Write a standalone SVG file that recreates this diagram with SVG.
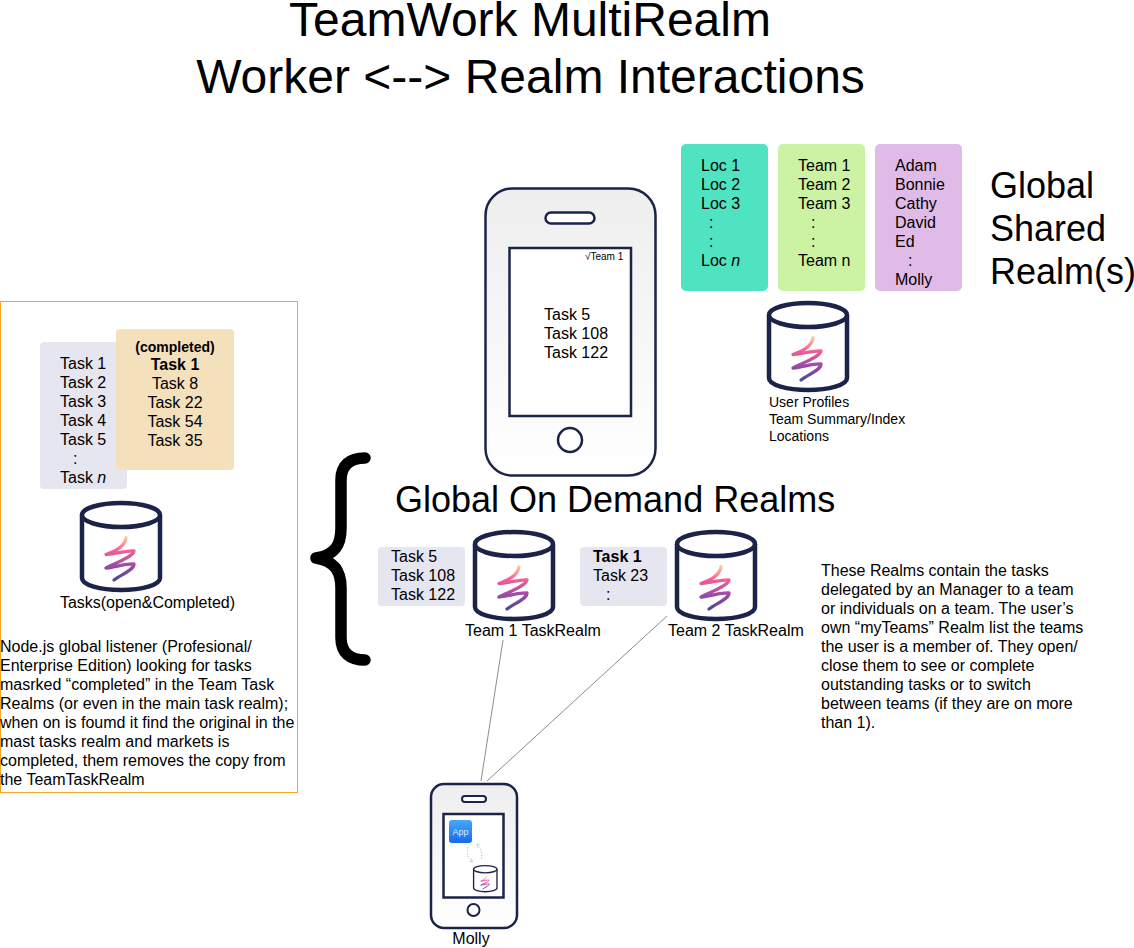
<svg xmlns="http://www.w3.org/2000/svg" xmlns:xlink="http://www.w3.org/1999/xlink" width="1134" height="948" viewBox="0 0 1134 948">
<style>
text{font-family:"Liberation Sans",Arial,sans-serif;fill:#000}
.t16{font-size:16px}.t14{font-size:14px}.t36{font-size:36px}.t48{font-size:48px}
.m{text-anchor:middle}.b{font-weight:bold}.i{font-style:italic}
.wire{stroke:#8c8c8c;stroke-width:1;fill:none}
.dash{fill:none;stroke:#bcc6cc;stroke-width:1;stroke-dasharray:1.500 1.500}
</style>
<defs>
<linearGradient id="sq" x1="0" y1="0" x2="0" y2="1">
<stop offset="0" stop-color="#fdc59a"/><stop offset=".28" stop-color="#fb5f94"/><stop offset=".65" stop-color="#a04aa8"/><stop offset="1" stop-color="#4a4c94"/>
</linearGradient>
<linearGradient id="ph" x1="0" y1="0" x2="0" y2="1">
<stop offset="0" stop-color="#eeeeee"/><stop offset="1" stop-color="#ffffff"/>
</linearGradient>
<linearGradient id="app" x1="0" y1="0" x2="0" y2="1">
<stop offset="0" stop-color="#4aa8f8"/><stop offset="1" stop-color="#1668f0"/>
</linearGradient>
<marker id="tip" viewBox="0 0 6 6" refX="5" refY="3" markerWidth="4" markerHeight="4" orient="auto"><path d="M0 0L5 3L0 6" fill="none" stroke="#bcc6cc" stroke-width="1"/></marker>
<g id="db">
<path d="M2 14V77C2 84 20 89 41 89S80 84 80 77V14" fill="#fff" stroke="#1b2448" stroke-width="4.500"/>
<ellipse cx="41" cy="14" rx="39" ry="12" fill="#fff" stroke="#1b2448" stroke-width="4.500"/>
<path d="M46 37C45 44 36 50 26 53.500C36 53 48 49 54 50C54 55 36 62 26 67C36 66 48 62 54 63C54 69 42 73 34 79" fill="none" stroke="url(#sq)" stroke-width="3.300" stroke-linecap="round" stroke-linejoin="round"/>
</g>
</defs>
<g id="title"><text class="t48 m" x="530" y="35.500">TeamWork MultiRealm</text><text class="t48 m" x="530.500" y="93">Worker &lt;--&gt; Realm Interactions</text></g>
<g id="connectors">
<path class="wire" d="M503 640L481 781"/>
<path class="wire" d="M667 616L487 781"/>
</g>
<g id="main-phone">
<rect x="485.500" y="188.500" width="170" height="287" rx="27" fill="url(#ph)" stroke="#1b2448" stroke-width="2.500"/>
<rect x="545.500" y="212.500" width="49" height="11" rx="5.500" fill="#fff" stroke="#1b2448" stroke-width="2.500"/>
<rect x="509.500" y="248" width="121.500" height="168" fill="#fff" stroke="#1b2448" stroke-width="2.500"/>
<circle cx="570" cy="440" r="12" fill="#fff" stroke="#1b2448" stroke-width="2.500"/>
<text x="585" y="260" font-size="10">√Team 1</text>
<text class="t16" x="544" y="320">Task 5</text><text class="t16" x="544" y="339">Task 108</text><text class="t16" x="544" y="358">Task 122</text>
</g>
<g id="locations"><rect x="681" y="144" width="87" height="147" rx="5" fill="#4fe3c1"/>
<text class="t16" x="701" y="171">Loc 1</text><text class="t16" x="701" y="190">Loc 2</text><text class="t16" x="701" y="209">Loc 3</text><text class="t16" x="709" y="228">:</text><text class="t16" x="709" y="247">:</text><text class="t16" x="701" y="266">Loc <tspan class="i">n</tspan></text></g>
<g id="teams"><rect x="778" y="144" width="87" height="147" rx="5" fill="#ccf2a4"/>
<text class="t16" x="798" y="171">Team 1</text><text class="t16" x="798" y="190">Team 2</text><text class="t16" x="798" y="209">Team 3</text><text class="t16" x="811" y="228">:</text><text class="t16" x="811" y="247">:</text><text class="t16" x="798" y="266">Team n</text></g>
<g id="people"><rect x="875" y="144" width="87" height="147" rx="5" fill="#e0bbe8"/>
<text class="t16" x="895" y="171">Adam</text><text class="t16" x="895" y="190">Bonnie</text><text class="t16" x="895" y="209">Cathy</text><text class="t16" x="895" y="228">David</text><text class="t16" x="895" y="247">Ed</text><text class="t16" x="908" y="266">:</text><text class="t16" x="895" y="285">Molly</text></g>
<g id="global-shared-label"><text class="t36" x="990" y="198">Global</text><text class="t36" x="990" y="241">Shared</text><text class="t36" x="990" y="284">Realm(s)</text></g>
<g id="shared-db"><use href="#db" x="767" y="301"/>
<text class="t14" x="769" y="407">User Profiles</text><text class="t14" x="769" y="424">Team Summary/Index</text><text class="t14" x="769" y="441">Locations</text></g>
<g id="master-box"><rect x="0.500" y="301.500" width="297" height="491" fill="#fff" stroke="#f5a623" stroke-width="1"/>
<text class="t16" x="0" y="652">Node.js global listener (Profesional/</text>
<text class="t16" x="0" y="671">Enterprise Edition) looking for tasks</text>
<text class="t16" x="0" y="690">masrked “completed” in the Team Task</text>
<text class="t16" x="0" y="709">Realms (or even in the main task realm);</text>
<text class="t16" x="0" y="728">when on is foumd it find the original in the</text>
<text class="t16" x="0" y="747">mast tasks realm and markets is</text>
<text class="t16" x="0" y="766">completed, them removes the copy from</text>
<text class="t16" x="0" y="785">the TeamTaskRealm</text></g>
<g id="tasks-list"><rect x="40" y="342" width="87" height="147" rx="4" fill="#e6e6f0"/>
<text class="t16" x="60" y="369">Task 1</text><text class="t16" x="60" y="388">Task 2</text><text class="t16" x="60" y="407">Task 3</text><text class="t16" x="60" y="426">Task 4</text><text class="t16" x="60" y="445">Task 5</text><text class="t16" x="73" y="464">:</text><text class="t16" x="60" y="483">Task <tspan class="i">n</tspan></text></g>
<g id="completed-list"><rect x="116" y="329" width="118" height="141" rx="4" fill="#f5e0bc"/>
<text class="t14 m b" x="175" y="352">(completed)</text><text class="t16 m b" x="175" y="370">Task 1</text><text class="t16 m" x="175" y="389">Task 8</text><text class="t16 m" x="175" y="408">Task 22</text><text class="t16 m" x="175" y="427">Task 54</text><text class="t16 m" x="175" y="446">Task 35</text></g>
<g id="tasks-db"><use href="#db" x="80" y="501"/><text class="t16 m" x="147.500" y="608">Tasks(open&amp;Completed)</text></g>
<g id="brace"><path d="M365 458C350 458 341 465 341 480V528C341 545 335 555 316 558C335 561 341 572 341 588V638C341 653 350 660 365 660" fill="none" stroke="#000" stroke-width="11.500" stroke-linecap="round" stroke-linejoin="round"/></g>
<g id="on-demand-label"><text class="t36" x="395" y="512">Global On Demand Realms</text></g>
<g id="team1"><rect x="378" y="547" width="87" height="59" rx="4" fill="#e6e6f0"/>
<text class="t16" x="391" y="562">Task 5</text><text class="t16" x="391" y="581">Task 108</text><text class="t16" x="391" y="600">Task 122</text>
<use href="#db" x="473" y="530"/><text class="t16" x="465" y="636">Team 1 TaskRealm</text></g>
<g id="team2"><rect x="580" y="547" width="87" height="59" rx="4" fill="#e6e6f0"/>
<text class="t16 b" x="593" y="562">Task 1</text><text class="t16" x="593" y="581">Task 23</text><text class="t16" x="606" y="600">:</text>
<use href="#db" x="675" y="530"/><text class="t16" x="668" y="636">Team 2 TaskRealm</text></g>
<g id="description">
<text class="t16" x="821" y="576">These Realms contain the tasks</text>
<text class="t16" x="821" y="595">delegated by an Manager to a team</text>
<text class="t16" x="821" y="614">or individuals on a team. The user’s</text>
<text class="t16" x="821" y="633">own “myTeams” Realm list the teams</text>
<text class="t16" x="821" y="652">the user is a member of. They open/</text>
<text class="t16" x="821" y="671">close them to see or complete</text>
<text class="t16" x="821" y="690">outstanding tasks or to switch</text>
<text class="t16" x="821" y="709">between teams (if they are on more</text>
<text class="t16" x="821" y="728">than 1).</text>
</g>
<g id="molly-phone">
<rect x="431" y="784" width="86" height="144" rx="13" fill="url(#ph)" stroke="#1b2448" stroke-width="2.500"/>
<rect x="462" y="796" width="24" height="6" rx="3" fill="#fff" stroke="#1b2448" stroke-width="2"/>
<rect x="443.500" y="814" width="60" height="83.500" fill="#fff" stroke="#1b2448" stroke-width="2.500"/>
<circle cx="473.500" cy="910" r="6" fill="#fff" stroke="#1b2448" stroke-width="2"/>
<rect x="449" y="820" width="23" height="23" rx="3" fill="url(#app)"/>
<text x="460.500" y="835" font-size="9" class="m" style="fill:#dcecff">App</text>
<path class="dash" d="M468 847C466 853 468 858 472.500 862" marker-end="url(#tip)"/>
<path class="dash" d="M481.500 859C482.500 853 480.500 848 477 844" marker-end="url(#tip)"/>
<use href="#db" transform="translate(473 865) scale(.3)"/>
<text class="t16 m" x="471" y="944">Molly</text>
</g>
</svg>
